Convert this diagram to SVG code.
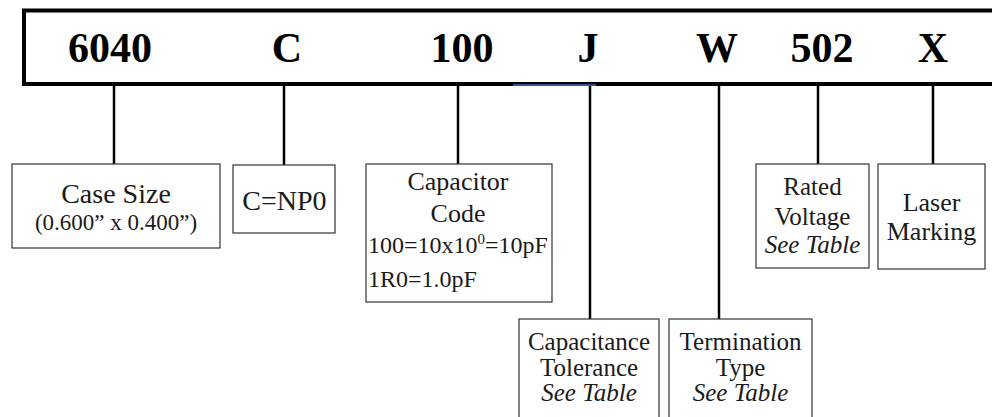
<svg xmlns="http://www.w3.org/2000/svg" width="992" height="417" viewBox="0 0 992 417">
<style>
.code{font-family:"Liberation Serif","Times New Roman",serif;font-weight:bold;font-size:42px;fill:#000;text-anchor:middle}
.box{fill:#fff;stroke:#333;stroke-width:1.2}
.t{font-family:"Liberation Serif","Times New Roman",serif;font-size:26px;fill:#1a1a1a;text-anchor:middle}
.b{font-size:25px}
.it{font-style:italic}
.conn line{stroke:#000;stroke-width:2.5}
</style>
<rect width="992" height="417" fill="#fff"/>
<g id="code-bar">
<rect x="24" y="10.5" width="990" height="73.5" fill="#fff" stroke="#000" stroke-width="4"/>
<text class="code" x="110" y="62">6040</text>
<text class="code" x="287" y="62">C</text>
<text class="code" x="462" y="62">100</text>
<text class="code" x="588" y="62">J</text>
<text class="code" x="717" y="62">W</text>
<text class="code" x="822" y="62">502</text>
<text class="code" x="933" y="62">X</text>
<line x1="513" y1="85" x2="596" y2="85" stroke="#4472C4" stroke-width="1.5"/>
</g>
<g class="conn" id="connectors">
<line x1="114" y1="86" x2="114" y2="164"/>
<line x1="284" y1="86" x2="284" y2="165"/>
<line x1="458" y1="86" x2="458" y2="164"/>
<line x1="590" y1="86" x2="590" y2="319"/>
<line x1="719" y1="86" x2="719" y2="319"/>
<line x1="818" y1="86" x2="818" y2="164"/>
<line x1="933" y1="86" x2="933" y2="164"/>
</g>
<g id="case-size">
<rect class="box" x="12" y="164" width="208" height="84"/>
<text class="t" x="116" y="203" style="font-size:28px">Case Size</text>
<text class="t" x="116" y="230" style="font-size:23px">(0.600” x 0.400”)</text>
</g>
<g id="dielectric">
<rect class="box" x="233" y="165" width="102" height="68"/>
<text class="t" x="284.5" y="210" style="font-size:28px">C=NP0</text>
</g>
<g id="capacitor-code">
<rect class="box" x="366" y="164" width="186" height="138"/>
<text class="t" x="458" y="190">Capacitor</text>
<text class="t" x="458" y="222">Code</text>
<text class="t" x="368" y="253" style="text-anchor:start;font-size:24px">100=10x10<tspan font-size="15" dy="-9">0</tspan><tspan dy="9">=10pF</tspan></text>
<text class="t" x="368" y="287" style="text-anchor:start;font-size:24px">1R0=1.0pF</text>
</g>
<g id="tolerance">
<rect class="box" x="519" y="319" width="140" height="110"/>
<text class="t b" x="589" y="350">Capacitance</text>
<text class="t b" x="589" y="376">Tolerance</text>
<text class="t b it" x="589" y="401">See Table</text>
</g>
<g id="termination">
<rect class="box" x="669" y="319" width="143" height="110"/>
<text class="t b" x="740.5" y="350">Termination</text>
<text class="t b" x="740.5" y="376">Type</text>
<text class="t b it" x="740.5" y="401">See Table</text>
</g>
<g id="voltage">
<rect class="box" x="756" y="164" width="113" height="104"/>
<text class="t b" x="812.5" y="195">Rated</text>
<text class="t b" x="812.5" y="225">Voltage</text>
<text class="t b it" x="812.5" y="253">See Table</text>
</g>
<g id="laser">
<rect class="box" x="878" y="164" width="107" height="105"/>
<text class="t" x="931.5" y="211">Laser</text>
<text class="t" x="931.5" y="240">Marking</text>
</g>
</svg>
